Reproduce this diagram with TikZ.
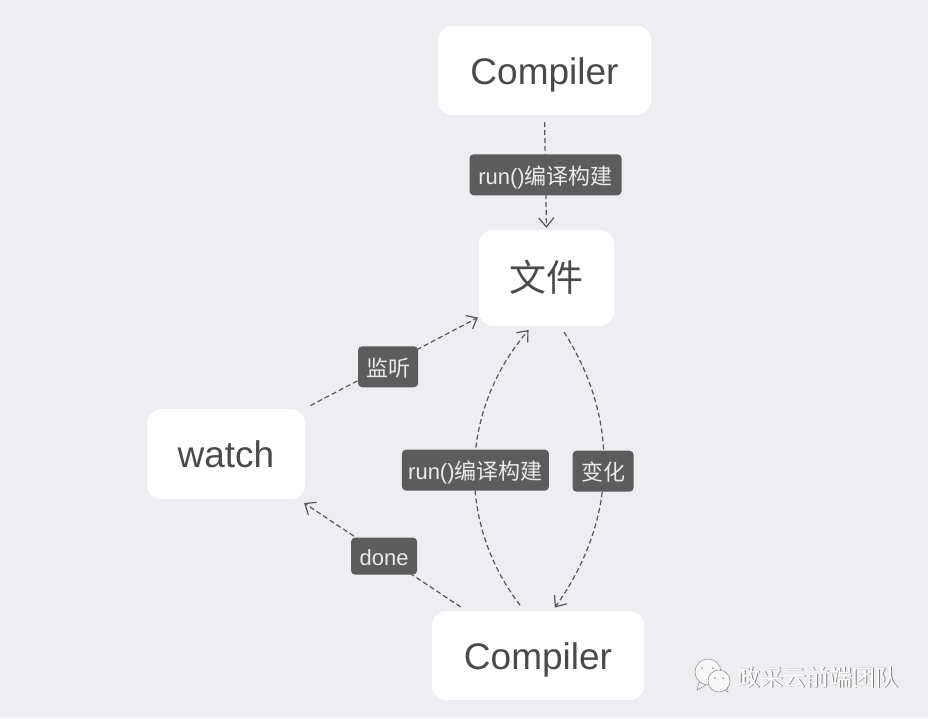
\documentclass[tikz,border=0pt]{standalone}
\usepackage{fontspec}
\usepackage{xcolor}
\usetikzlibrary{arrows.meta}
\setmainfont{Liberation Sans}
\newfontfamily\cjk{Noto Sans CJK SC}
\definecolor{pagebg}{HTML}{EEEDF2}
\definecolor{boxtext}{HTML}{4A4A4A}
\definecolor{tagfill}{HTML}{5C5C5C}
\definecolor{flowline}{HTML}{555555}
\newcommand{\runtag}{run()\cjk{编译构建}}
\tikzset{
    box/.style={fill=white, rounded corners=14pt, text=boxtext, font=\fontsize{37}{40}\selectfont, inner sep=0pt, text height=27pt, text depth=0pt},
    tag/.style={fill=tagfill, rounded corners=4pt, text=white!92!black, font=\fontsize{22}{24}\selectfont, inner sep=0pt, minimum height=41pt, text height=19pt, text depth=0pt},
    flow/.style={draw=flowline, line width=1.2pt, dash pattern=on 5pt off 3pt, -{Straight Barb[length=9pt, width=15pt, line width=1.2pt]}},
    bubble/.style={fill=white!97!black, draw=black!45, line width=0.5pt},
}

\begin{document}
\begin{tikzpicture}[x=1pt, y=-1pt]
    \useasboundingbox (0, 0) rectangle (928, 718);
    \fill[pagebg] (0, 0) rectangle (928, 718);
    \node[box, minimum width=213pt, minimum height=89pt] (compilertop) at (544.5, 70.5) {Compiler};
    \node[box, minimum width=135pt, minimum height=96pt] (file) at (546.5, 278) {\cjk 文件};
    \node[box, minimum width=158pt, minimum height=90pt] (watch) at (226, 454) {watch};
    \node[box, minimum width=212pt, minimum height=89pt] (compilerlow) at (538, 655.5) {Compiler};
    \draw[flow, shorten <=7pt, shorten >=2pt] (compilertop.south) -- node[pos=0.52, tag, minimum width=152pt] (runtop) {\runtag} (file.north);
    \draw[flow, shorten <=7pt, shorten >=1pt] (watch.30) -- node[pos=0.48, yshift=-2pt, tag, minimum width=60pt] (listen) {\cjk 监听} (file.210);
    \draw[flow, shorten <=7pt, shorten >=5pt] (compilerlow.107) to[bend left=39] node[pos=0.49, tag, minimum width=147pt] (runlow) {\runtag} (file.-107);
    \draw[flow, shorten <=7pt, shorten >=4pt] (file.-74) to[bend left=34] node[pos=0.505, tag, minimum width=61pt] (change) {\cjk 变化} (compilerlow.72);
    \draw[flow, shorten <=7pt, shorten >=7pt] (compilerlow.148) -- node[pos=0.49, tag, minimum width=66pt, minimum height=37pt, text height=18pt] (done) {done} (watch.-32);
    \filldraw[bubble] (699, 682) -- (697, 690) -- (706, 685) -- cycle;
    \filldraw[bubble] (708, 672) circle (13);
    \filldraw[bubble] (724, 690) -- (728, 692) -- (727, 685) -- cycle;
    \filldraw[bubble] (719, 681) circle (11);
    \fill[black!40] (702, 668) circle (1) (713, 668) circle (1) (715, 678) circle (1) (723, 678) circle (1);
    \node[font=\cjk\fontsize{23}{25}\selectfont, text=black!50, inner sep=0pt] (markshade) at (819, 678) {政采云前端团队};
    \node[font=\cjk\fontsize{23}{25}\selectfont, text=white, inner sep=0pt] (mark) at (818.3, 677.3) {政采云前端团队};
\end{tikzpicture}
\end{document}
